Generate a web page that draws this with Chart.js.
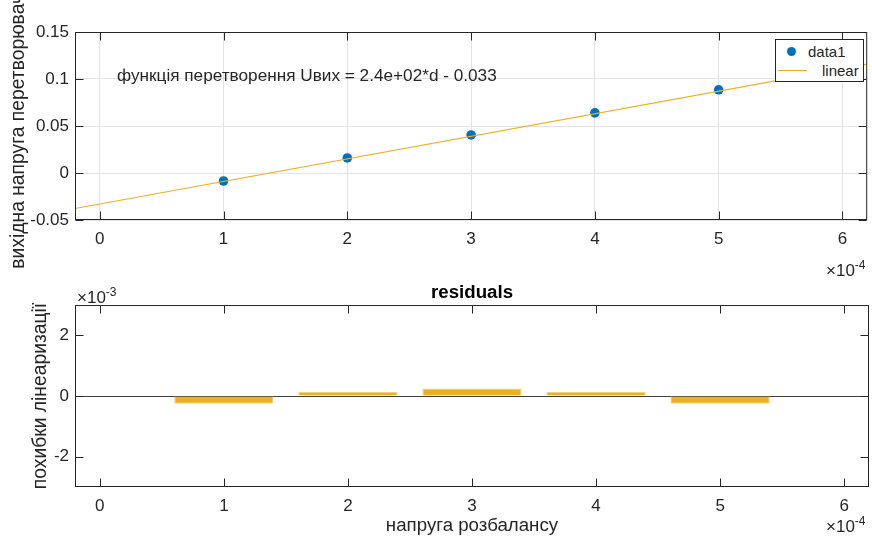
<!DOCTYPE html>
<html>
<head>
<meta charset="utf-8">
<script src="https://cdn.jsdelivr.net/npm/chart.js@4.4.1/dist/chart.umd.min.js"></script>
<style>
  html, body { margin: 0; padding: 0; background: #fff; }
  #wrap { position: relative; width: 872px; height: 537px; overflow: hidden;
          font-family: "Liberation Sans", Arial, sans-serif; color: #262626; }
  canvas { position: absolute; left: 0; }
  .txt { position: absolute; white-space: nowrap; font-size: 17px; line-height: 1; }
  .txt sup { font-size: 12px; vertical-align: 7px; }
  #legend { position: absolute; left: 775px; top: 39px; width: 87px; height: 41px;
            border: 1px solid #262626; background: #fff; }
  #legend .lab { position: absolute; font-size: 15px; line-height: 1; }
</style>
</head>
<body>
<div id="wrap">
  <canvas id="fitChart" width="872" height="270" style="top:0"></canvas>
  <canvas id="resChart" width="872" height="267" style="top:270px"></canvas>

  <div class="txt" style="left:117px; top:67px; font-size:17.2px;">функція перетворення Uвих = 2.4e+02*d - 0.033</div>
  <div class="txt" style="left:826px; top:259px;">&times;10<sup>-4</sup></div>
  <div class="txt" style="left:77px; top:286px;">&times;10<sup>-3</sup></div>
  <div class="txt" style="left:826px; top:515px;">&times;10<sup>-4</sup></div>

  <div id="legend">
    <div style="position:absolute; left:11px; top:7px; width:9px; height:9px; border-radius:50%; background:#0072BD;"></div>
    <div class="lab" style="left:32px; top:4px;">data1</div>
    <div style="position:absolute; left:2px; top:30px; width:29px; height:1px; background:#EDB120;"></div>
    <div class="lab" style="left:46px; top:23px;">linear</div>
  </div>
</div>
<script>
// x values are in units of 1e-4, residuals in units of 1e-3
const xData = [1, 2, 3, 4, 5];
const yData = [-0.0085, 0.016, 0.0405, 0.064, 0.0885];
const fitX = [-0.2, 6.2];
const fitY = [-0.0378, 0.1158];
const residuals = [-0.255, 0.13, 0.25, 0.13, -0.255];

const xTicks = [0, 1, 2, 3, 4, 5, 6];
const xTickLabels = ['0', '1', '2', '3', '4', '5', '6'];
const yTicks = [-0.05, 0, 0.05, 0.1, 0.15];
const yTickLabels = ['-0.05', '0', '0.05', '0.1', '0.15'];
const resTicks = [-2, 0, 2];
const resTickLabels = ['-2', '0', '2'];

const FONT = '"Liberation Sans", Arial, sans-serif';
const INK = '#262626';

// MATLAB style box with ticks pointing inward on all four sides
const boxTicks = {
    id: 'boxTicks',
    afterDraw(chart) {
        const {ctx, chartArea: a, scales} = chart;
        const L = a.left + 0.5, R = a.right - 0.5, T = a.top + 0.5, B = a.bottom - 0.5;
        ctx.save();
        ctx.strokeStyle = INK;
        ctx.lineWidth = 1;
        ctx.beginPath();
        scales.x.ticks.forEach(t => {
            const px = Math.round(scales.x.getPixelForValue(t.value)) + 0.5;
            ctx.moveTo(px, T); ctx.lineTo(px, T + 8);
            ctx.moveTo(px, B); ctx.lineTo(px, B - 8);
        });
        scales.y.ticks.forEach(t => {
            const py = Math.round(scales.y.getPixelForValue(t.value)) + 0.5;
            ctx.moveTo(L, py); ctx.lineTo(L + 8, py);
            ctx.moveTo(R, py); ctx.lineTo(R - 8, py);
        });
        ctx.stroke();
        ctx.strokeRect(L, T, R - L, B - T);
        ctx.restore();
    }
};

function fixTicks(values) {
    return function (scale) {
        scale.ticks = values.map(v => ({value: v}));
    };
}

const tickFont = {family: FONT, size: 17};
const labelFont = {family: FONT, size: 18.7};
const yLabelFont = {family: FONT, size: 19.3};

new Chart(document.getElementById('fitChart'), {
    type: 'scatter',
    data: {
        datasets: [{
            label: 'data1',
            data: xData.map((x, i) => ({x: x, y: yData[i]})),
            backgroundColor: '#0072BD',
            borderColor: '#0072BD',
            pointRadius: 4.8,
            borderWidth: 0,
            order: 2
        }, {
            label: 'linear',
            data: fitX.map((x, i) => ({x: x, y: fitY[i]})),
            showLine: true,
            borderColor: '#EDB120',
            borderWidth: 1.2,
            pointRadius: 0,
            order: 1
        }]
    },
    options: {
        responsive: false,
        animation: false,
        layout: {padding: {top: 32, right: 3, left: 0, bottom: 0}},
        plugins: {legend: {display: false}, tooltip: {enabled: false}},
        scales: {
            x: {
                type: 'linear',
                min: -0.2,
                max: 6.2,
                afterBuildTicks: fixTicks(xTicks),
                afterFit: s => { s.height = 50; },
                grid: {color: '#e3e3e3', drawTicks: false},
                border: {display: false},
                ticks: {
                    font: tickFont, color: INK, padding: 9, maxRotation: 0,
                    callback: (v, i) => xTickLabels[i]
                }
            },
            y: {
                min: -0.05,
                max: 0.15,
                afterBuildTicks: fixTicks(yTicks),
                afterFit: s => { s.width = 75; },
                grid: {color: '#e3e3e3', drawTicks: false},
                border: {display: false},
                ticks: {
                    font: tickFont, color: INK, padding: 6,
                    callback: (v, i) => yTickLabels[i]
                },
                title: {
                    display: true,
                    text: 'вихідна напруга перетворювача',
                    font: yLabelFont, color: INK,
                    padding: {top: 7.5, bottom: 0}
                }
            }
        }
    },
    plugins: [boxTicks]
});

new Chart(document.getElementById('resChart'), {
    type: 'bar',
    data: {
        datasets: [{
            label: 'residuals',
            data: xData.map((x, i) => ({x: x, y: residuals[i]})),
            backgroundColor: '#EDB120',
            borderColor: '#f3d27f',
            borderWidth: 1,
            barPercentage: 0.8,
            categoryPercentage: 1
        }]
    },
    options: {
        responsive: false,
        animation: false,
        layout: {padding: {top: 11.5, right: 3, left: 0, bottom: 0}},
        plugins: {
            legend: {display: false},
            tooltip: {enabled: false},
            title: {
                display: true,
                text: 'residuals',
                fullSize: false,
                font: {family: FONT, size: 18.7, weight: 'bold'},
                color: '#000',
                padding: {top: 0, bottom: 1.1}
            }
        },
        scales: {
            x: {
                type: 'linear',
                offset: false,
                min: -0.2,
                max: 6.2,
                afterBuildTicks: fixTicks(xTicks),
                afterFit: s => { s.height = 50; },
                grid: {display: false, drawTicks: false},
                border: {display: false},
                ticks: {
                    font: tickFont, color: INK, padding: 9, maxRotation: 0,
                    callback: (v, i) => xTickLabels[i]
                },
                title: {
                    display: true,
                    text: 'напруга розбалансу',
                    font: labelFont, color: INK,
                    padding: {top: 0, bottom: 0}
                }
            },
            y: {
                min: -3,
                max: 3,
                afterBuildTicks: fixTicks(resTicks),
                afterFit: s => { s.width = 75; },
                grid: {
                    drawTicks: false,
                    color: ctx => ctx.tick && ctx.tick.value === 0 ? '#404040' : 'rgba(0,0,0,0)'
                },
                border: {display: false},
                ticks: {
                    font: tickFont, color: INK, padding: 6,
                    callback: (v, i) => resTickLabels[i]
                },
                title: {
                    display: true,
                    text: 'похибки лінеаризації',
                    font: yLabelFont, color: INK,
                    padding: {top: 29, bottom: 0}
                }
            }
        }
    },
    plugins: [boxTicks]
});
</script>
</body>
</html>
